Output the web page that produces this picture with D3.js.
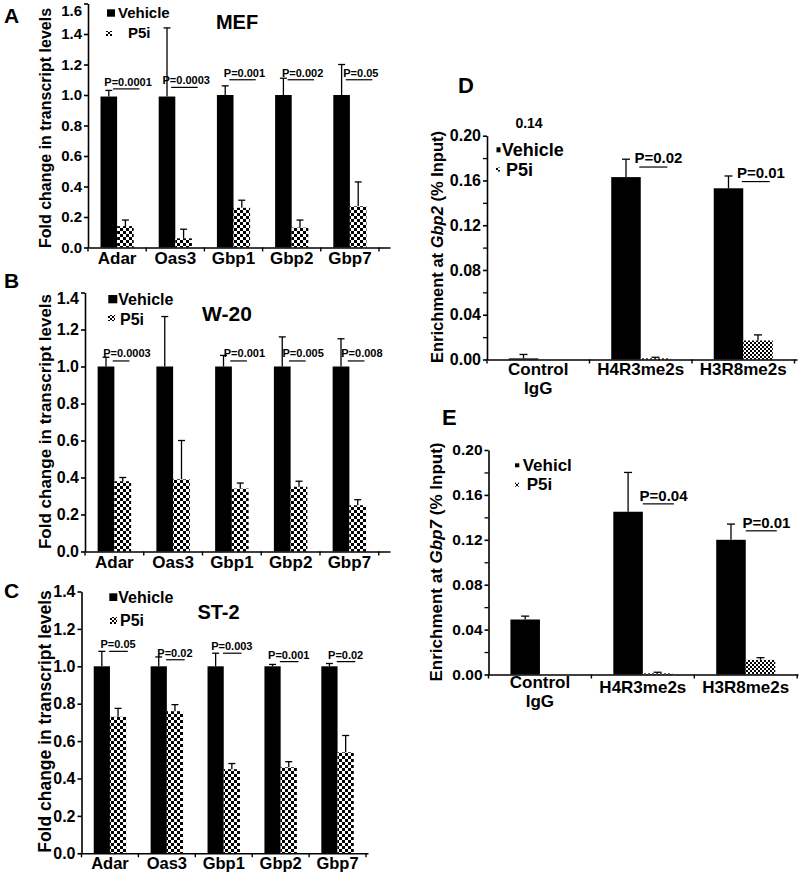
<!DOCTYPE html>
<html><head><meta charset="utf-8">
<script src="https://cdn.jsdelivr.net/npm/d3@7"></script>
<style>
body{margin:0;background:#fff;}
svg text{font-family:"Liberation Sans", Arial, Helvetica, sans-serif;font-weight:bold;fill:#000;}
</style></head><body>
<script>
// ---------------- DATA ----------------
const genes = ["Adar", "Oas3", "Gbp1", "Gbp2", "Gbp7"];
const seriesNames = ["Vehicle", "P5i"];

// Panel A – MEF
const mefVehicle    = [0.99, 0.99, 1.00, 1.00, 1.00];
const mefVehicleErr = [0.04, 0.45, 0.06, 0.11, 0.20];
const mefP5i        = [0.14, 0.06, 0.26, 0.13, 0.27];
const mefP5iErr     = [0.04, 0.06, 0.05, 0.05, 0.16];
const mefPText      = ["P=0.0001", "P=0.0003", "P=0.001", "P=0.002", "P=0.05"];
const mefPLevel     = [1.04, 1.05, 1.10, 1.10, 1.10];

// Panel B – W-20
const w20Vehicle    = [1.00, 1.00, 1.00, 1.00, 1.00];
const w20VehicleErr = [0.05, 0.27, 0.06, 0.16, 0.15];
const w20P5i        = [0.38, 0.39, 0.34, 0.35, 0.25];
const w20P5iErr     = [0.02, 0.21, 0.03, 0.03, 0.03];
const w20PText      = ["P=0.0003", "", "P=0.001", "P=0.005", "P=0.008"];
const w20PLevel     = [1.03, 0, 1.03, 1.03, 1.03];

// Panel C – ST-2
const st2Vehicle    = [1.00, 1.00, 1.00, 1.00, 1.00];
const st2VehicleErr = [0.08, 0.05, 0.07, 0.01, 0.015];
const st2P5i        = [0.73, 0.76, 0.45, 0.46, 0.54];
const st2P5iErr     = [0.045, 0.035, 0.03, 0.03, 0.09];
const st2PText      = ["P=0.05", "P=0.02", "P=0.003", "P=0.001", "P=0.02"];
const st2PLevel     = [1.08, 1.035, 1.07, 1.025, 1.025];

// Panels D/E – ChIP
const chipTargets = ["Control IgG", "H4R3me2s", "H3R8me2s"];

const gbp2Vehicle    = [0.001, 0.163, 0.153];
const gbp2VehicleErr = [0.0035, 0.016, 0.011];
const gbp2P5i        = [0, 0.001, 0.017];
const gbp2P5iErr     = [0, 0.001, 0.005];
const gbp2PText      = ["", "P=0.02", "P=0.01"];
const gbp2PLevel     = [0, 0.172, 0.159];
const gbp2Extra      = "0.14";

const gbp7Vehicle    = [0.049, 0.145, 0.120];
const gbp7VehicleErr = [0.003, 0.035, 0.014];
const gbp7P5i        = [0, 0.001, 0.013];
const gbp7P5iErr     = [0, 0.001, 0.002];
const gbp7PText      = ["", "P=0.04", "P=0.01"];
const gbp7PLevel     = [0, 0.152, 0.128];

// tick values
const foldTicksA = [0.0, 0.2, 0.4, 0.6, 0.8, 1.0, 1.2, 1.4, 1.6];
const foldTicksBC = [0.0, 0.2, 0.4, 0.6, 0.8, 1.0, 1.2, 1.4];
const chipMajorTicks = [0.00, 0.04, 0.08, 0.12, 0.16, 0.20];
const chipMinorTicks = [0.02, 0.06, 0.10, 0.14, 0.18];

// ---------------- LAYOUT ----------------
const svg = d3.select("body").append("svg").attr("width", 800).attr("height", 883);
const defs = svg.append("defs");
function checker(id, c) {
  const p = defs.append("pattern").attr("id", id).attr("patternUnits", "userSpaceOnUse")
    .attr("width", 2 * c).attr("height", 2 * c);
  p.append("rect").attr("width", 2 * c).attr("height", 2 * c).attr("fill", "#fff");
  p.append("rect").attr("width", c).attr("height", c).attr("fill", "#000");
  p.append("rect").attr("x", c).attr("y", c).attr("width", c).attr("height", c).attr("fill", "#000");
}
checker("chk3", 3);
checker("chk2", 2);

const panels = [
  {
    letter: "A", letterPos: [4, 15], letterSize: 21,
    title: "MEF", titlePos: [237, 22], titleSize: 20,
    ylabel: [{ t: "Fold change in transcript levels" }], ylabelPos: [45, 128], ylabelSize: 16,
    cats: genes, vehicle: mefVehicle, vehicleErr: mefVehicleErr, p5i: mefP5i, p5iErr: mefP5iErr,
    pText: mefPText, pLevel: mefPLevel,
    xRange: [88, 390], step: 58.2, barFrac: 0.285,
    yDomain: [0, 1.6], yRange: [247.5, 3.5], ticks: foldTicksA, minor: [], fmt: d => d.toFixed(1),
    tickFont: 15, topShift: 7,
    catSize: 17, catDy: 10.5, lineH: 0, multiShift: 0,
    pSize: 11, pLine: [-0.25, 1.35], pTextX: 0.66, pTextDy: 7,
    pattern: "chk3", cap: 7,
    legend: { sq: [107, 9.3, 8, 7.4], vt: [118, 13], mk: [106, 31, 6, 5], pt: [128, 33], size: 15 }
  },
  {
    letter: "B", letterPos: [4, 280], letterSize: 21,
    title: "W-20", titlePos: [227, 313], titleSize: 21,
    ylabel: [{ t: "Fold change in transcript levels" }], ylabelPos: [45, 421.5], ylabelSize: 17,
    cats: genes, vehicle: w20Vehicle, vehicleErr: w20VehicleErr, p5i: w20P5i, p5iErr: w20P5iErr,
    pText: w20PText, pLevel: w20PLevel,
    xRange: [85, 390], step: 58.75, barFrac: 0.285,
    yDomain: [0, 1.4], yRange: [551.5, 292.5], ticks: foldTicksBC, minor: [], fmt: d => d.toFixed(1),
    tickFont: 16, topShift: 6,
    catSize: 17, catDy: 10, lineH: 0, multiShift: 0,
    pSize: 11, pLine: [-0.1, 0.9], pTextX: 0.75, pTextDy: 8,
    pattern: "chk3", cap: 7,
    legend: { sq: [108.3, 295, 9, 8.3], vt: [118.3, 299], mk: [108, 315, 7, 6], pt: [120, 319], size: 16 }
  },
  {
    letter: "C", letterPos: [4, 590], letterSize: 21,
    title: "ST-2", titlePos: [218.5, 611.7], titleSize: 20,
    ylabel: [{ t: "Fold change in transcript levels" }], ylabelPos: [45, 721.5], ylabelSize: 17.5,
    cats: genes, vehicle: st2Vehicle, vehicleErr: st2VehicleErr, p5i: st2P5i, p5iErr: st2P5iErr,
    pText: st2PText, pLevel: st2PLevel,
    xRange: [81.5, 368], step: 56.9, barFrac: 0.285,
    yDomain: [0, 1.4], yRange: [853.3, 591.5], ticks: foldTicksBC, minor: [], fmt: d => d.toFixed(1),
    tickFont: 16, topShift: 0,
    catSize: 16.5, catDy: 10, lineH: 0, multiShift: 0,
    pSize: 11, pLine: [-0.05, 1.1], pTextX: 0.5, pTextDy: 7,
    pattern: "chk3", cap: 7,
    legend: { sq: [109.3, 593.3, 8, 7.7], vt: [118.3, 597], mk: [110, 617, 7, 7], pt: [120, 620.7], size: 16 }
  },
  {
    letter: "D", letterPos: [458, 85], letterSize: 22,
    title: gbp2Extra, titlePos: [529, 122.7], titleSize: 14,
    ylabel: [{ t: "Enrichment at " }, { t: "Gbp2", it: true }, { t: " (% Input)" }], ylabelPos: [436.7, 247], ylabelSize: 16.5,
    cats: chipTargets, vehicle: gbp2Vehicle, vehicleErr: gbp2VehicleErr, p5i: gbp2P5i, p5iErr: gbp2P5iErr,
    pText: gbp2PText, pLevel: gbp2PLevel,
    xRange: [487, 797], step: 102.5, barFrac: 0.288,
    yDomain: [0, 0.2], yRange: [359.5, 135.7], ticks: chipMajorTicks, minor: chipMinorTicks, fmt: d => d.toFixed(2),
    tickFont: 16, topShift: 0,
    catSize: 17, catDy: 9.5, lineH: 19, multiShift: 0,
    pSize: 15, pLine: [-0.05, 0.9], pTextX: 0.6, pTextDy: 9.3,
    pattern: "chk2", cap: 8,
    legend: { sq: [496.5, 147.3, 4, 5], vt: [501.7, 150], mk: [496, 167.5, 4, 4], pt: [506, 170], size: 18 }
  },
  {
    letter: "E", letterPos: [442, 417], letterSize: 22,
    title: "", titlePos: [0, 0], titleSize: 14,
    ylabel: [{ t: "Enrichment at " }, { t: "Gbp7", it: true }, { t: " (% Input)" }], ylabelPos: [436, 562], ylabelSize: 17,
    cats: chipTargets, vehicle: gbp7Vehicle, vehicleErr: gbp7VehicleErr, p5i: gbp7P5i, p5iErr: gbp7P5iErr,
    pText: gbp7PText, pLevel: gbp7PLevel,
    xRange: [488.5, 798], step: 102.9, barFrac: 0.287,
    yDomain: [0, 0.2], yRange: [674.5, 450], ticks: chipMajorTicks, minor: chipMinorTicks, fmt: d => d.toFixed(2),
    tickFont: 15.5, topShift: 0,
    catSize: 17, catDy: 12, lineH: 19, multiShift: -5,
    pSize: 15, pLine: [0, 1.05], pTextX: 0.7, pTextDy: 8,
    pattern: "chk2", cap: 8,
    legend: { sq: [515, 463.3, 4.3, 4], vt: [522.7, 465], mk: [515, 482.7, 4, 4], pt: [526.7, 484], size: 17 }
  }
];

function drawPanel(p) {
  const g = svg.append("g");
  const n = p.cats.length;
  const po = ((p.xRange[1] - p.xRange[0]) / p.step - n) / 2;
  const x = d3.scaleBand().domain(p.cats).range(p.xRange).paddingInner(0).paddingOuter(po).align(0);
  const y = d3.scaleLinear().domain(p.yDomain).range(p.yRange);
  const step = x.step();
  const bw = step * p.barFrac;
  const cx = c => x(c) + step / 2;

  // bars
  const rows = p.cats.map((c, i) => ({ c, v: p.vehicle[i], ve: p.vehicleErr[i], t: p.p5i[i], te: p.p5iErr[i], pt: p.pText[i], pl: p.pLevel[i] }));
  g.selectAll(".vbar").data(rows).join("rect")
    .attr("x", d => cx(d.c) - bw).attr("width", bw)
    .attr("y", d => y(d.v)).attr("height", d => y(0) - y(d.v))
    .attr("fill", "#000");
  g.selectAll(".tbar").data(rows.filter(d => d.t > 0)).join("rect")
    .attr("x", d => cx(d.c)).attr("width", bw)
    .attr("y", d => y(d.t)).attr("height", d => y(0) - y(d.t))
    .attr("fill", `url(#${p.pattern})`);

  // error bars
  const errs = [];
  rows.forEach(d => {
    if (d.ve > 0) errs.push({ x: cx(d.c) - bw / 2, v: d.v, e: d.ve });
    if (d.t > 0 && d.te > 0) errs.push({ x: cx(d.c) + bw / 2, v: d.t, e: d.te });
  });
  const eg = g.append("g").attr("stroke", "#000").attr("stroke-width", 1.3);
  eg.selectAll("line.v").data(errs).join("line")
    .attr("x1", d => d.x).attr("x2", d => d.x).attr("y1", d => y(d.v)).attr("y2", d => y(d.v + d.e));
  eg.selectAll("line.c").data(errs).join("line")
    .attr("x1", d => d.x - p.cap / 2).attr("x2", d => d.x + p.cap / 2)
    .attr("y1", d => y(d.v + d.e)).attr("y2", d => y(d.v + d.e));

  // y axis
  const ax = g.append("g").attr("transform", `translate(${p.xRange[0]},0)`)
    .call(d3.axisLeft(y).tickValues(p.ticks).tickFormat(p.fmt).tickSize(4).tickSizeOuter(0).tickPadding(2));
  ax.selectAll("text").style("font-size", p.tickFont + "px");
  ax.selectAll("path,line").attr("stroke", "#000").attr("stroke-width", 1.6);
  if (p.topShift) ax.selectAll(".tick").filter(d => d === p.ticks[p.ticks.length - 1]).select("text").attr("y", p.topShift);
  if (p.minor.length) {
    const mi = g.append("g").attr("transform", `translate(${p.xRange[0]},0)`)
      .call(d3.axisLeft(y).tickValues(p.minor).tickFormat("").tickSize(4));
    mi.select(".domain").remove();
    mi.selectAll("line").attr("stroke", "#000").attr("stroke-width", 1.3);
  }

  // x axis
  const xa = g.append("g").attr("transform", `translate(0,${y(0)})`)
    .call(d3.axisBottom(x).tickSize(0).tickSizeOuter(0).tickFormat(""));
  xa.select(".domain").attr("stroke", "#000").attr("stroke-width", 1.6);
  const bounds = d3.range(n + 1).map(i => (i < n ? x(p.cats[i]) : x(p.cats[n - 1]) + step));
  g.append("g").selectAll("line").data(bounds).join("line")
    .attr("x1", d => d).attr("x2", d => d).attr("y1", y(0)).attr("y2", y(0) + 4)
    .attr("stroke", "#000").attr("stroke-width", 1.4);

  // category labels
  p.cats.forEach(c => {
    const parts = c.split(" ");
    const t = g.append("text").attr("text-anchor", "middle").style("font-size", p.catSize + "px");
    parts.forEach((s, k) => {
      t.append("tspan").attr("x", cx(c))
        .attr("y", y(0) + p.catDy + (parts.length > 1 ? p.multiShift : 0) + k * p.lineH)
        .attr("dy", "0.36em").text(s);
    });
  });

  // significance annotations
  const sig = rows.filter(d => d.pt);
  g.selectAll(".pl").data(sig).join("line")
    .attr("x1", d => cx(d.c) + p.pLine[0] * bw).attr("x2", d => cx(d.c) + p.pLine[1] * bw)
    .attr("y1", d => y(d.pl)).attr("y2", d => y(d.pl))
    .attr("stroke", "#000").attr("stroke-width", 1.2);
  g.selectAll(".ptx").data(sig).join("text")
    .attr("x", d => cx(d.c) + p.pTextX * bw).attr("y", d => y(d.pl) - p.pTextDy)
    .attr("dy", "0.36em").attr("text-anchor", "middle").style("font-size", p.pSize + "px")
    .text(d => d.pt);

  // legend
  const L = p.legend;
  g.append("rect").attr("x", L.sq[0]).attr("y", L.sq[1]).attr("width", L.sq[2]).attr("height", L.sq[3]).attr("fill", "#000");
  g.append("text").attr("x", L.vt[0]).attr("y", L.vt[1]).attr("dy", "0.36em").style("font-size", L.size + "px")
    .text(p.letter === "E" ? "Vehicl" : seriesNames[0]);
  g.append("rect").attr("x", L.mk[0]).attr("y", L.mk[1]).attr("width", L.mk[2]).attr("height", L.mk[3]).attr("fill", "url(#chk2)");
  g.append("text").attr("x", L.pt[0]).attr("y", L.pt[1]).attr("dy", "0.36em").style("font-size", L.size + "px").text(seriesNames[1]);

  // title
  if (p.title) g.append("text").attr("x", p.titlePos[0]).attr("y", p.titlePos[1]).attr("dy", "0.36em")
    .attr("text-anchor", "middle").style("font-size", p.titleSize + "px").text(p.title);

  // panel letter
  g.append("text").attr("x", p.letterPos[0]).attr("y", p.letterPos[1]).attr("dy", "0.36em")
    .style("font-size", p.letterSize + "px").text(p.letter);

  // y label
  const yl = g.append("text").attr("transform", `translate(${p.ylabelPos[0]},${p.ylabelPos[1]}) rotate(-90)`)
    .attr("text-anchor", "middle").attr("dy", "0.36em").style("font-size", p.ylabelSize + "px");
  p.ylabel.forEach(s => yl.append("tspan").style("font-style", s.it ? "italic" : "normal").text(s.t));
}

panels.forEach(drawPanel);
</script>
</body></html>
